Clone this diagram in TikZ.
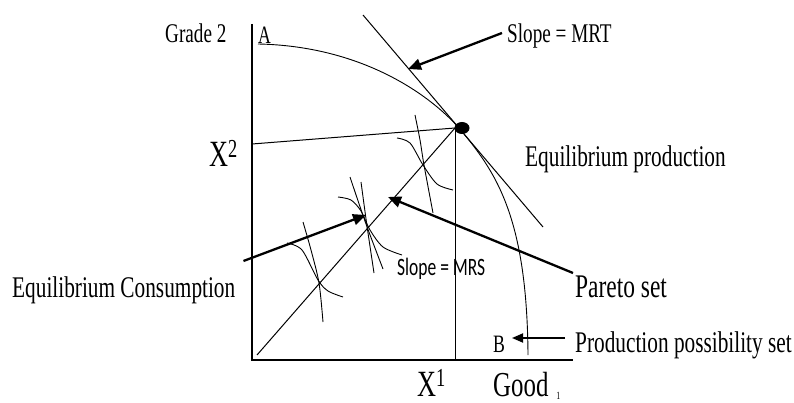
\documentclass[tikz,border=0pt]{standalone}
\usepackage{graphicx}
\usepackage{fontspec}
\setmainfont{Liberation Serif}
\newfontfamily\mrsfont{Carlito}
\usetikzlibrary{arrows.meta}
\newcommand{\lbl}[2]{{\fontsize{#1}{#1}\selectfont\scalebox{0.71}[1]{#2}}}
\tikzset{
  axis/.style={line width=1.3pt},
  curve/.style={line width=0.9pt},
  guide/.style={line width=1pt},
  pointer/.style={-{Triangle[length=13pt,width=11pt]}, line width=2.3pt},
  thinpointer/.style={-{Triangle[length=11pt,width=9pt]}, line width=1.8pt},
  label/.style={inner sep=0pt, anchor=base west},
}

\begin{document}
\begin{tikzpicture}[x=1pt, y=-1pt]
  \useasboundingbox (0,0) rectangle (794,403);
  % axes
  \coordinate (O) at (252,360);
  \coordinate (top) at (252,24);
  \coordinate (right) at (573,360);
  \draw[axis] (top) -- (O) -- (right);
  % production possibility frontier and its tangent
  \coordinate (E) at (455,128);
  \coordinate (ppA) at (258,44);
  \coordinate (ppM) at (459,128);
  \coordinate (ppB) at (528,355);
  \draw[curve] (ppA) .. controls (360,46) and (428,93) .. (ppM)
                     .. controls (495,171) and (527,215) .. (ppB);
  \coordinate (tanTop) at (363,15);
  \coordinate (tanBot) at (543,227);
  \draw[guide] (tanTop) -- (tanBot);
  % box lines and pareto set
  \draw[guide] (252,144) -- (E);
  \draw[guide] (E) -- (455,360);
  \draw[guide] (257,355) -- (E);
  % indifference curves
  \draw[curve] plot[smooth] coordinates {(287,243) (302,250) (318,280) (328,291) (343,297)};
  \draw[curve] plot[smooth] coordinates {(303,222) (311,250) (319,283) (323,322)};
  \draw[curve] plot[smooth] coordinates {(338,197) (351,200) (361,211) (370,230) (383,247) (402,255)};
  \draw[curve] plot[smooth] coordinates {(350,177) (366,224) (383,269)};
  \draw[curve] plot[smooth] coordinates {(361,182) (367,226) (374,273)};
  \draw[curve] plot[smooth] coordinates {(397,138) (410,143) (423,165) (437,184) (453,190)};
  \draw[curve] plot[smooth] coordinates {(415,115) (420,140) (424,165) (433,213)};
  % equilibrium point
  \fill (462,128) ellipse (7.5 and 6);
  % labels
  \node[label] (grade) at (165,43) {\lbl{27}{Grade 2}};
  \node[label] (ptA) at (258,44) {\lbl{25}{A}};
  \node[label] (mrt) at (507,43) {\lbl{27}{Slope = MRT}};
  \node[label] (xtwo) at (209,167) {\lbl{37}{X\textsuperscript{2}}};
  \node[label] (eqprod) at (525,167) {\lbl{30}{Equilibrium production}};
  \node[label] (eqcons) at (12,297) {\lbl{30}{Equilibrium Consumption}};
  \node[label] (mrs) at (397,275) {{\mrsfont\fontsize{25}{25}\selectfont\scalebox{0.7}[1]{Slope = MRS}}};
  \node[label] (pareto) at (575,297) {\lbl{33}{Pareto set}};
  \node[label] (ptB) at (493,352) {\lbl{25}{B}};
  \node[label] (pps) at (575,352) {\lbl{30}{Production possibility set}};
  \node[label] (xone) at (417,396) {\lbl{37}{X\textsuperscript{1}}};
  \node[label] (good) at (493,396) {\lbl{35}{Good}\hspace{8pt}\raisebox{-3pt}{\lbl{11}{1}}};
  % pointers
  \coordinate (mrtTip) at (408,69);
  \coordinate (consTip) at (366,215);
  \coordinate (paretoTip) at (388,197);
  \coordinate (ppsTip) at (512,338);
  \draw[pointer] ([xshift=-5pt,yshift=10pt]mrt.base west) -- (mrtTip);
  \draw[pointer] ([xshift=8pt,yshift=36pt]eqcons.base east) -- (consTip);
  \draw[pointer] ([xshift=-2pt,yshift=24pt]pareto.base west) -- (paretoTip);
  \draw[thinpointer] ([xshift=-10pt,yshift=14pt]pps.base west) -- (ppsTip);
\end{tikzpicture}
\end{document}
